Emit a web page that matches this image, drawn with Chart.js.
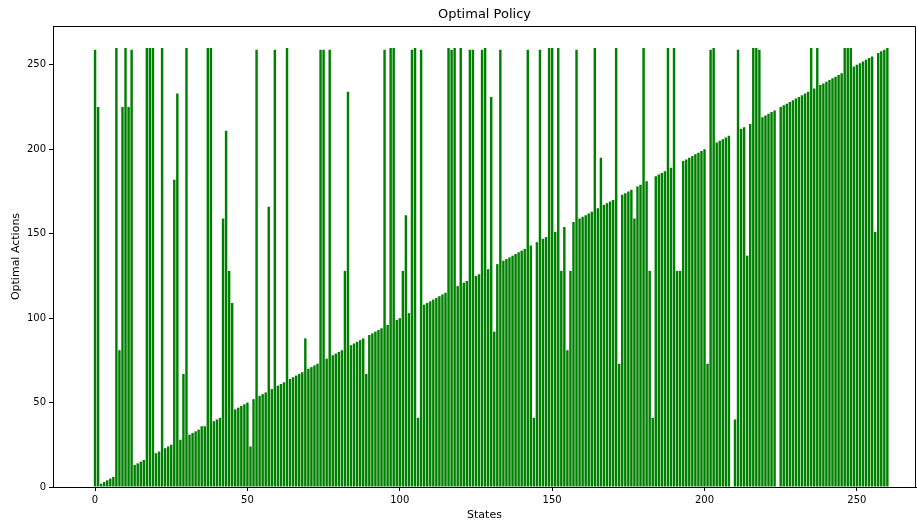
<!DOCTYPE html>
<html>
<head>
<meta charset="utf-8">
<script src="https://cdn.jsdelivr.net/npm/chart.js@4"></script>
<style>
  html, body { margin: 0; padding: 0; background: #fff; }
</style>
</head>
<body>
<canvas id="policy" width="917" height="522"></canvas>
<script>
// data, one value per state (0 .. 260)
const title = "Optimal Policy";
const xLabel = "States";
const yLabel = "Optimal Actions";

const actions = [
  259, 225, 2, 3, 4, 5, 6, 260, 81, 225,
  260, 225, 259, 13, 14, 15, 16, 260, 260, 260,
  20, 21, 260, 23, 24, 25, 182, 233, 28, 67,
  260, 31, 32, 33, 34, 36, 36, 260, 260, 39,
  40, 41, 159, 211, 128, 109, 46, 47, 48, 49,
  50, 24, 52, 259, 54, 55, 56, 166, 58, 259,
  60, 61, 62, 260, 64, 65, 66, 67, 68, 88,
  70, 71, 72, 73, 259, 259, 76, 259, 78, 79,
  80, 81, 128, 234, 84, 85, 86, 87, 88, 67,
  90, 91, 92, 93, 94, 259, 96, 260, 260, 99,
  100, 128, 161, 103, 259, 260, 41, 259, 108, 109,
  110, 111, 112, 113, 114, 115, 260, 259, 260, 119,
  260, 121, 122, 259, 259, 125, 126, 259, 260, 129,
  231, 92, 132, 259, 134, 135, 136, 137, 138, 139,
  140, 141, 259, 143, 41, 145, 259, 147, 148, 260,
  260, 151, 260, 128, 154, 81, 128, 157, 259, 159,
  160, 161, 162, 163, 260, 165, 195, 167, 168, 169,
  170, 260, 73, 173, 174, 175, 176, 159, 178, 179,
  260, 181, 128, 41, 184, 185, 186, 187, 260, 189,
  260, 128, 128, 193, 194, 195, 196, 197, 198, 199,
  200, 73, 259, 260, 204, 205, 206, 207, 208, 0,
  40, 259, 212, 213, 137, 215, 260, 260, 259, 219,
  220, 221, 222, 223, 0, 225, 226, 227, 228, 229,
  230, 231, 232, 233, 234, 260, 236, 260, 238, 239,
  240, 241, 242, 243, 244, 245, 260, 260, 260, 249,
  250, 251, 252, 253, 254, 255, 151, 257, 258, 259,
  260
];

const xTicks = [0, 50, 100, 150, 200, 250];
const yTicks = [0, 50, 100, 150, 200, 250];

// state index of each bar
const states = actions.map((_, i) => i);

const tickFont = { family: "DejaVu Sans", size: 10 };
const labelFont = { family: "DejaVu Sans", size: 11 };

// title over the plot area + top/right spines
const framePlugin = {
  id: "frame",
  afterDraw(chart) {
    const { ctx, chartArea: a } = chart;
    ctx.save();
    ctx.strokeStyle = "#000";
    ctx.lineWidth = 1;
    ctx.beginPath();
    ctx.moveTo(a.left, a.top + 0.5);
    ctx.lineTo(a.right - 0.5, a.top + 0.5);
    ctx.lineTo(a.right - 0.5, a.bottom);
    ctx.stroke();
    ctx.fillStyle = "#000";
    ctx.font = "13px 'DejaVu Sans'";
    ctx.textAlign = "center";
    ctx.textBaseline = "middle";
    ctx.fillText(title, (a.left + a.right) / 2, 15);
    ctx.restore();
  }
};

const policyData = {
  datasets: [
    {
      label: "Optimal Actions",
      data: states.map((s, i) => ({ x: s, y: actions[i] })),
      backgroundColor: "#008000",
      borderWidth: 0,
      barPercentage: 1,
      categoryPercentage: 0.8,
    },
  ],
};

const policyConfig = {
  type: "bar",
  data: policyData,
  plugins: [framePlugin],
  options: {
    responsive: false,
    animation: false,
    devicePixelRatio: 1,
    layout: { padding: { top: 26, right: 1, left: 0, bottom: 0 } },
    plugins: {
      legend: { display: false },
      title: { display: false },
      tooltip: { enabled: false },
    },
    scales: {
      x: {
        type: "linear",
        offset: false,
        min: -13.8,
        max: 269.4,
        afterBuildTicks: (s) => { s.ticks = xTicks.map((v) => ({ value: v })); },
        afterFit: (s) => { s.height = 35; },
        grid: { offset: false, drawOnChartArea: false, drawTicks: true, tickLength: 4, color: "#000" },
        border: { display: true, color: "#000" },
        ticks: { color: "#000", font: tickFont, padding: 3, maxRotation: 0 },
        title: { display: true, text: xLabel, color: "#000", font: labelFont, padding: { top: 0, bottom: 0 } },
      },
      y: {
        min: 0,
        max: 273,
        afterBuildTicks: (s) => { s.ticks = yTicks.map((v) => ({ value: v })); },
        afterFit: (s) => { s.width = 53; },
        grid: { drawOnChartArea: false, drawTicks: true, tickLength: 4, color: "#000" },
        border: { display: true, color: "#000" },
        ticks: { color: "#000", font: tickFont, padding: 3 },
        title: { display: true, text: yLabel, color: "#000", font: labelFont, padding: { top: 10, bottom: 6 } },
      },
    },
  },
};

const policyChart = new Chart(document.getElementById("policy"), policyConfig);
</script>
</body>
</html>
